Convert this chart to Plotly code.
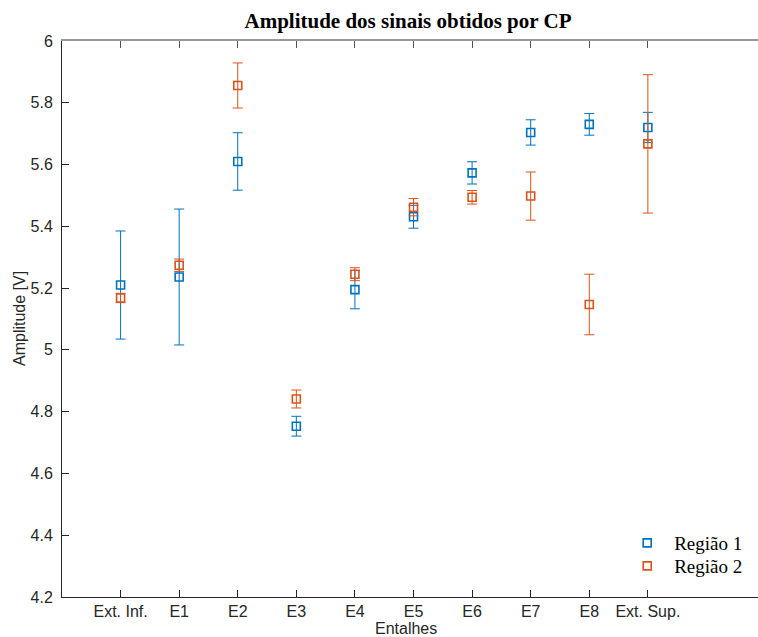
import plotly.graph_objects as go

categories = ["Ext. Inf.", "E1", "E2", "E3", "E4", "E5", "E6", "E7", "E8", "Ext. Sup."]
regiao1 = [5.210, 5.236, 5.610, 4.753, 5.195, 5.431, 5.573, 5.704, 5.730, 5.720]
regiao1_err = [0.175, 0.220, 0.093, 0.032, 0.062, 0.037, 0.036, 0.041, 0.035, 0.049]
regiao2 = [5.168, 5.274, 5.856, 4.841, 5.245, 5.462, 5.494, 5.498, 5.147, 5.667]
regiao2_err = [0.015, 0.020, 0.073, 0.029, 0.021, 0.028, 0.022, 0.078, 0.098, 0.224]
y_ticks = [4.2, 4.4, 4.6, 4.8, 5.0, 5.2, 5.4, 5.6, 5.8, 6.0]
y_ticktext = ["4.2", "4.4", "4.6", "4.8", "5", "5.2", "5.4", "5.6", "5.8", "6"]

xpos = list(range(1, len(categories) + 1))
blue = "#0072BD"
orange = "#D95319"

fig = go.Figure()
for name, vals, errs, col, leg in [("Região 1", regiao1, regiao1_err, blue, "legend"),
                                   ("Região 2", regiao2, regiao2_err, orange, "legend2")]:
    fig.add_trace(go.Scatter(
        x=xpos, y=vals, mode="markers", name=name, legend=leg,
        marker=dict(symbol="square-open", size=8, color=col, line=dict(width=1.6, color=col)),
        error_y=dict(type="data", array=errs, visible=True, color=col, thickness=1, width=5),
    ))

fig.add_trace(go.Scatter(x=[None], y=[None], xaxis="x2", showlegend=False, hoverinfo="skip"))

legend_style = dict(xanchor="left", yanchor="top", bgcolor="rgba(0,0,0,0)",
                    font=dict(family="Liberation Serif", size=19, color="black"), itemwidth=44)

xr = [0, 11.88]
fig.update_layout(
    width=758, height=637,
    margin=dict(l=62, r=0, t=41, b=40, autoexpand=False),
    paper_bgcolor="white", plot_bgcolor="white",
    title=dict(text="<b>Amplitude dos sinais obtidos por CP</b>", x=408 / 758, xref="container",
               xanchor="center", y=1 - 21 / 637, yref="container", yanchor="middle",
               font=dict(family="Liberation Serif", size=21, color="black")),
    xaxis=dict(range=xr, tickvals=xpos, ticktext=categories, ticks="inside", ticklen=7,
               tickcolor="#262626", showline=True, linecolor="#262626", linewidth=1,
               showgrid=False, zeroline=False, automargin=False,
               tickfont=dict(family="Liberation Sans", size=16, color="#262626")),
    xaxis2=dict(range=xr, overlaying="x", side="top", tickvals=xpos, ticks="inside", ticklen=7,
                tickcolor="#555555", showticklabels=False, showline=True, linecolor="#999999",
                linewidth=1.5, showgrid=False, zeroline=False, automargin=False),
    yaxis=dict(range=[4.2, 6.0], tickvals=y_ticks, ticktext=y_ticktext, ticks="inside", ticklen=7,
               tickcolor="#262626", showline=True, linecolor="#262626", linewidth=1,
               showgrid=False, zeroline=False, automargin=False, ticklabelstandoff=5,
               tickfont=dict(family="Liberation Sans", size=16, color="#262626")),
    legend=dict(x=0.802, y=0.1313, **legend_style),
    legend2=dict(x=0.802, y=0.0899, **legend_style),
    showlegend=True,
    annotations=[
        dict(text="Entalhes", xref="paper", yref="paper", x=(406 - 62) / 696, y=0.0, yshift=-31,
             xanchor="center", yanchor="middle", showarrow=False,
             font=dict(family="Liberation Sans", size=16, color="#262626")),
        dict(text="Amplitude [V]", xref="paper", yref="paper", x=0, xshift=-43, y=0.5,
             xanchor="center", yanchor="middle", textangle=-90, showarrow=False,
             font=dict(family="Liberation Sans", size=16, color="#262626")),
    ],
)

fig.write_html("out.html", config={"displayModeBar": False},
               post_script="document.body.style.margin='0px';document.body.style.overflow='hidden';")
